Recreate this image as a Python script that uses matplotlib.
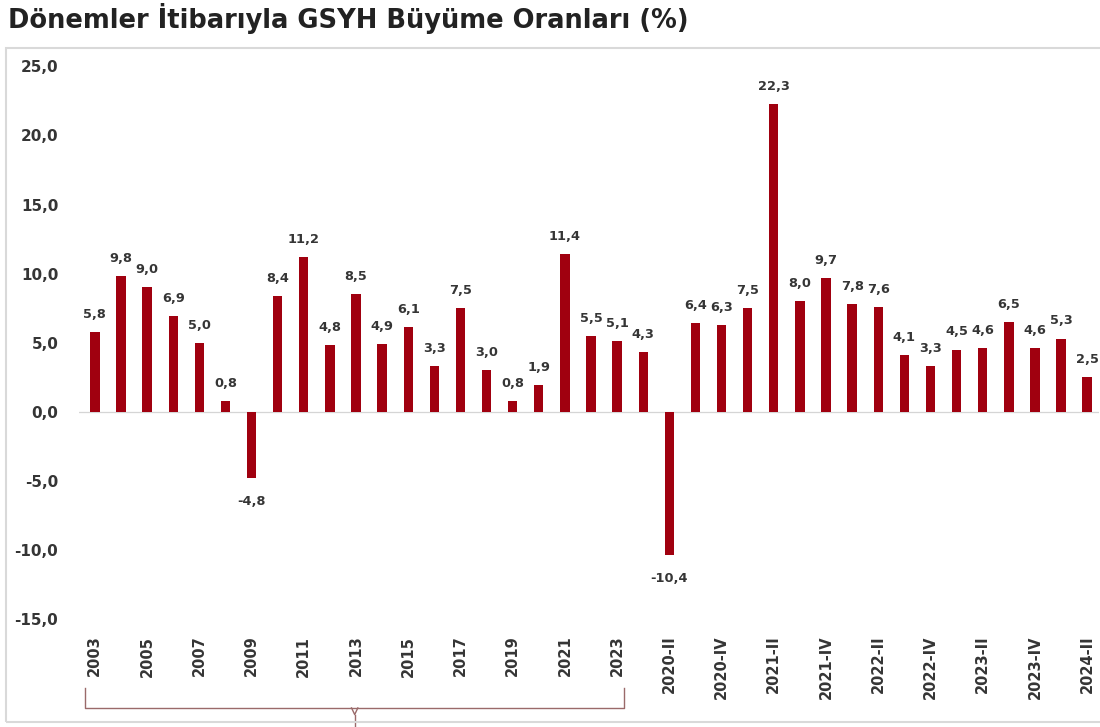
import matplotlib
matplotlib.use("Agg")
import matplotlib.pyplot as plt
import matplotlib.transforms as mtransforms
from matplotlib.patches import Rectangle

# ---- data ----
annual_labels = [str(y) for y in range(2003, 2024)]
annual_values = [5.8, 9.8, 9.0, 6.9, 5.0, 0.8, -4.8, 8.4, 11.2, 4.8, 8.5,
                 4.9, 6.1, 3.3, 7.5, 3.0, 0.8, 1.9, 11.4, 5.5, 5.1]
quarter_labels = ["2020-I", "2020-II", "2020-III", "2020-IV",
                  "2021-I", "2021-II", "2021-III", "2021-IV",
                  "2022-I", "2022-II", "2022-III", "2022-IV",
                  "2023-I", "2023-II", "2023-III", "2023-IV",
                  "2024-I", "2024-II"]
quarter_values = [4.3, -10.4, 6.4, 6.3, 7.5, 22.3, 8.0, 9.7, 7.8, 7.6,
                  4.1, 3.3, 4.5, 4.6, 6.5, 4.6, 5.3, 2.5]
y_ticks = [-15, -10, -5, 0, 5, 10, 15, 20, 25]
title = "Dönemler İtibarıyla GSYH Büyüme Oranları (%)"

labels = annual_labels + quarter_labels
values = annual_values + quarter_values

BAR = "#A0000F"
TXT = "#353535"

fig = plt.figure(figsize=(11, 7.27), dpi=100)
ax = fig.add_axes([0.072, 0.1486, 0.927, 0.7601])

x = list(range(len(values)))
ax.bar(x, values, width=0.36, color=BAR, zorder=3)
ax.axhline(0, color="#d5d5d5", lw=0.9, zorder=1)

def fmt(v):
    return f"{v:.1f}".replace(".", ",")

for xi, v in zip(x, values):
    if v >= 0:
        ax.annotate(fmt(v), (xi, v), xytext=(0, 8), textcoords="offset points",
                    ha="center", va="bottom", fontsize=9.3, fontweight="bold",
                    color=TXT)
    else:
        ax.annotate(fmt(v), (xi, v), xytext=(0, -12), textcoords="offset points",
                    ha="center", va="top", fontsize=9.3, fontweight="bold",
                    color=TXT)

ax.set_xlim(-0.6, len(values) - 0.55)
ax.set_ylim(-15, 25)
ax.set_yticks(y_ticks)
ax.set_yticklabels([fmt(t) for t in y_ticks], fontsize=11, fontweight="bold",
                   color=TXT)
ax.set_xticks(x[::2])
ax.set_xticklabels(labels[::2], rotation=90, fontsize=10.5, fontweight="bold",
                   color=TXT)
ax.tick_params(axis="both", length=0)
ax.tick_params(axis="y", pad=15)
ax.tick_params(axis="x", pad=12)
for s in ax.spines.values():
    s.set_visible(False)

# bracket under annual group
tr = mtransforms.blended_transform_factory(ax.transData, ax.transAxes)
bc = "#9a6a6a"
xl, xr, xm = -0.38, 20.25, 9.95
yt, yb, ytip = -0.125, -0.161, -0.2
ax.plot([xl, xl, xr, xr], [yt, yb, yb, yt], transform=tr, clip_on=False,
        color=bc, lw=1.0)
ax.plot([xm - 0.12, xm, xm + 0.12], [yb, yb - 0.012, yb], transform=tr,
        clip_on=False, color=bc, lw=1.0)
ax.plot([xm, xm], [yb - 0.012, ytip], transform=tr, clip_on=False,
        color=bc, lw=1.0)

# frame
fig.patches.append(Rectangle((6 / 1100, 5 / 727), 1.0, (727 - 48 - 5) / 727,
                             transform=fig.transFigure, fill=False,
                             edgecolor="#d9d9d9", lw=1.5))

fig.text(8 / 1100, 1 - 18 / 727, title, fontsize=18.5, fontweight="bold",
         color="#222222", ha="left", va="center")

fig.savefig("out.png", dpi=100)
